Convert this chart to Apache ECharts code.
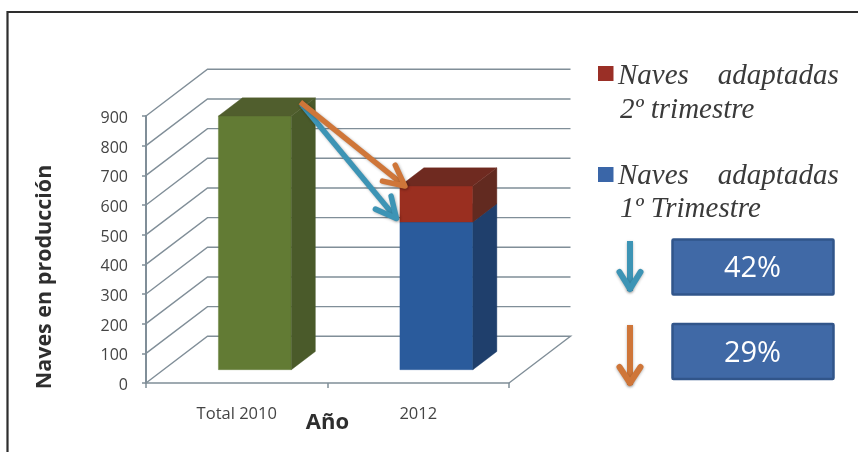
<!DOCTYPE html>
<html><head><meta charset="utf-8">
<style>html,body{margin:0;padding:0;background:#fff}#c{width:858px;height:452px;filter:blur(0.35px)}</style>
<script src="https://cdn.jsdelivr.net/npm/echarts@6/dist/echarts.min.js"></script>
</head><body><div id="c"></div>
<script>
const categories = ['Total 2010', '2012'];
const yTicks = [0, 100, 200, 300, 400, 500, 600, 700, 800, 900];
const totalValues = [855, null];
const firstQuarter = [null, 498];
const secondQuarter = [null, 121];
const percents = ['42%', '29%'];

const DEPTH_X = 61.5, DEPTH_Y = -46.7, D0 = 0.295, D1 = 0.685, GRID = '#808e98';
const chart = echarts.init(document.getElementById('c'));

function wallItem(params, api) {
  const cs = params.coordSys, v = api.value(1), p = api.coord([0, v]);
  const l = cs.x, r = cs.x + cs.width, y = p[1];
  const pts = [[l, y], [l + DEPTH_X, y + DEPTH_Y], [r + DEPTH_X, y + DEPTH_Y]];
  if (v === 0) pts.push([r, y]);
  return { type: 'polyline', shape: { points: pts }, style: { stroke: GRID, lineWidth: 1.4, fill: null } };
}
function barItem(colors) {
  return function (params, api) {
    const idx = api.value(0), base = api.value(1), top = api.value(2);
    const c0 = api.coord([idx, base]), c1 = api.coord([idx, top]), band = api.size([1, 0])[0];
    const w = band * 0.402;
    const ox = DEPTH_X * D0, oy = DEPTH_Y * 0.285, dx = DEPTH_X * (D1 - D0), dy = DEPTH_Y * (D1 - D0);
    const L = c0[0] - w / 2 + ox, R = L + w;
    const B = c0[1] + oy, T = c1[1] + oy;
    const poly = (pts, fill) => ({ type: 'polygon', shape: { points: pts }, style: { fill: fill, stroke: fill, lineWidth: 0.4 } });
    return { type: 'group', children: [
      poly([[L, T], [R, T], [R, B], [L, B]], colors[0]),
      poly([[R, T], [R + dx, T + dy], [R + dx, B + dy], [R, B]], colors[1]),
      poly([[L, T], [R, T], [R + dx, T + dy], [L + dx, T + dy]], colors[2])
    ] };
  };
}
function arrowShape(a, b, color, lw, len, spread) {
  const ang = Math.atan2(a[1] - b[1], a[0] - b[0]);
  const arm = s => [b[0] + len * Math.cos(ang + s), b[1] + len * Math.sin(ang + s)];
  const st = { stroke: color, lineWidth: lw, fill: null, lineCap: 'butt', lineJoin: 'round',
    shadowBlur: 3, shadowColor: 'rgba(0,0,0,0.3)', shadowOffsetX: 1, shadowOffsetY: 1 };
  return [
    { type: 'polyline', shape: { points: [a, b] }, style: st },
    { type: 'polyline', shape: { points: [arm(spread), b, arm(-spread)] }, style: Object.assign({}, st, { lineCap: 'round' }) }
  ];
}
function trendArrows(params, api) {
  const band = api.size([1, 0])[0], w = band * 0.402;
  const ox = DEPTH_X * D0, oy = DEPTH_Y * 0.285;
  const g = api.coord([0, totalValues[0]]), s = api.coord([1, firstQuarter[1]]), t = api.coord([1, firstQuarter[1] + secondQuarter[1]]);
  const start = [g[0] + w / 2 + ox, g[1] + oy];
  const left = s[0] - w / 2 + ox;
  return { type: 'group', children: [
    ...arrowShape([start[0] + 10, start[1] - 12], [left - 3.5, s[1] + oy - 3.5], '#3d94b5', 5.5, 23, 0.46),
    ...arrowShape([start[0] + 9, start[1] - 14], [left + 5, t[1] + oy + 0], '#cf7639', 5.5, 23, 0.46)
  ] };
}
let acc = categories.map(() => 0);
function stackRows(values) {
  const out = [];
  values.forEach((v, i) => { if (v != null) { out.push([i, acc[i], acc[i] + v]); acc[i] += v; } });
  return out;
}
const FRAME = '#2e2e2e';
const legendText = (x, y, t) => ({ type: 'text', x, y, style: { text: t, font: 'italic 29px "Liberation Serif"', fill: '#3a3a3a' } });
const box = (y, t) => ({ type: 'group', children: [
  { type: 'rect', shape: { x: 672.5, y: y, width: 161, height: 55, r: 1 }, style: { fill: '#4069a6', stroke: '#31558a', lineWidth: 2.5 } },
  { type: 'text', x: 752.5, y: y + 29.5, style: { text: t, font: '29px "Open Sans"', fill: '#fff', align: 'center', verticalAlign: 'middle' } }
] });
const bigArrow = (x, y0, y1, armY, color) => ({ type: 'group', children: [
  { type: 'polyline', shape: { points: [[x, y0], [x, y1 - 2]] }, style: { stroke: color, lineWidth: 6, fill: null, shadowBlur: 3, shadowColor: 'rgba(0,0,0,0.3)', shadowOffsetY: 1 } },
  { type: 'polyline', shape: { points: [[x - 10.5, armY], [x, y1 - 4], [x + 10.5, armY]] }, style: { stroke: color, lineWidth: 6, fill: null, lineCap: 'round', lineJoin: 'round', shadowBlur: 3, shadowColor: 'rgba(0,0,0,0.3)', shadowOffsetY: 1 } }
] });

chart.setOption({
  animation: false,
  backgroundColor: '#fff',
  grid: { left: 146, top: 116, width: 363, height: 267, outerBoundsMode: 'none', containLabel: false },
  xAxis: {
    type: 'category', data: categories, boundaryGap: true,
    name: 'Año', nameLocation: 'middle', nameGap: 29, nameMoveOverlap: false,
    nameTextStyle: { fontFamily: 'Open Sans', fontWeight: 'bold', fontSize: 22, color: '#2e2e2e' },
    axisLine: { lineStyle: { color: GRID, width: 1.5 } },
    axisTick: { show: true, alignWithLabel: false, length: 5, lineStyle: { color: GRID, width: 1.5 } },
    axisLabel: { margin: 23, fontFamily: 'Open Sans', fontSize: 16.5, color: '#444' }
  },
  yAxis: {
    type: 'value', min: 0, max: 900, interval: 100,
    axisLine: { show: true, lineStyle: { color: GRID, width: 2 } },
    axisTick: { show: true, length: 4, lineStyle: { color: GRID, width: 1.5 } },
    splitLine: { show: false },
    axisLabel: { margin: 18, fontFamily: 'Open Sans', fontSize: 16, color: '#444', verticalAlign: 'top', lineHeight: 5 }
  },
  series: [
    { type: 'custom', name: 'Cuadrícula', silent: true, z: 1, renderItem: wallItem, encode: { x: 0, y: 1 }, data: yTicks.map(v => [0, v]) },
    { type: 'custom', name: 'Total 2010', silent: true, z: 2, renderItem: barItem(['#627b34', '#4a5a2a', '#505e2d']), encode: { x: 0, y: [1, 2] }, data: stackRows(totalValues) },
    { type: 'custom', name: 'Naves adaptadas 1º Trimestre', silent: true, z: 2, renderItem: barItem(['#2a5b9c', '#1f3f6c', '#1f3f6c']), encode: { x: 0, y: [1, 2] }, data: stackRows(firstQuarter) },
    { type: 'custom', name: 'Naves adaptadas 2º trimestre', silent: true, z: 3, renderItem: barItem(['#9a2f20', '#622a20', '#6f2a20']), encode: { x: 0, y: [1, 2] }, data: stackRows(secondQuarter) },
    { type: 'custom', name: 'Descenso', silent: true, z: 4, renderItem: trendArrows, encode: { x: 0, y: 1 }, data: [[0, 0]] }
  ],
  graphic: { elements: [
    { type: 'polyline', shape: { points: [[7.5, 452], [7.5, 12], [858, 12]] }, style: { stroke: FRAME, lineWidth: 2.2, fill: null } },
    { type: 'text', x: 45, y: 277, rotation: Math.PI / 2, style: { text: 'Naves en producción', font: 'bold 21.5px "Open Sans"', fill: '#2e2e2e', align: 'center', verticalAlign: 'middle' } },
    { type: 'rect', shape: { x: 598, y: 66, width: 15.5, height: 15 }, style: { fill: '#9a2f26' } },
    { type: 'rect', shape: { x: 598, y: 167, width: 15.5, height: 15 }, style: { fill: '#3a66a8' } },
    legendText(618, 62, 'Naves    adaptadas'),
    legendText(620, 96, '2º trimestre'),
    legendText(618, 162, 'Naves    adaptadas'),
    legendText(620, 195, '1º Trimestre'),
    bigArrow(630, 241, 293, 272, '#3d94b5'),
    bigArrow(630, 325, 387, 367, '#cf7639'),
    box(239.5, percents[0]),
    box(324, percents[1])
  ] }
});
</script></body></html>
